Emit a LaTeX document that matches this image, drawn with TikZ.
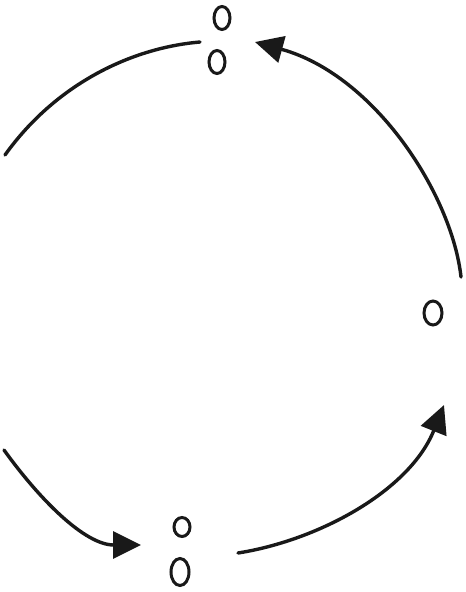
\documentclass[tikz,border=0pt]{standalone}
\usetikzlibrary{arrows.meta,shapes.geometric}
\begin{document}
\begin{tikzpicture}[x=1pt,y=-1pt,
  ring/.style={draw=black!90,line width=3pt,ellipse,inner sep=0pt,minimum width=16pt,minimum height=23pt},
  stroke/.style={draw=black!90,line width=3.4pt,line cap=round},
  bighead/.style={-{Triangle[length=28pt,width=27pt]}}]
\useasboundingbox[fill=white] (0,0) rectangle (466,592);
% small rings
\node[ring] (t1) at (222,18) {};
\node[ring] (t2) at (217,62) {};
\node[ring,minimum width=18pt,minimum height=24pt] (r1) at (433,313) {};
\node[ring,minimum height=19pt] (b1) at (182,527) {};
\node[ring,minimum width=18pt,minimum height=27pt] (b2) at (180,572) {};
% arc end points
\coordinate (a1s) at (5,155);
\coordinate (a1e) at (200,42);
\coordinate (a2s) at (461,277);
\coordinate (a2e) at (255,42);
\coordinate (a3s) at (238,553);
\coordinate (a3e) at (444,405);
\coordinate (a4s) at (4,450);
\coordinate (a4e) at (141,545);
% arcs
\draw[stroke] (a1s) .. controls (55,85) and (130,48) .. (a1e);
\draw[stroke,bighead] (a2s) .. controls (452,195) and (375,75) .. (a2e);
\draw[stroke,bighead] (a3s) .. controls (320,540) and (410,490) .. (a3e);
\draw[stroke,bighead] (a4s) .. controls (40,500) and (85,545) .. (a4e);
\end{tikzpicture}
\end{document}
